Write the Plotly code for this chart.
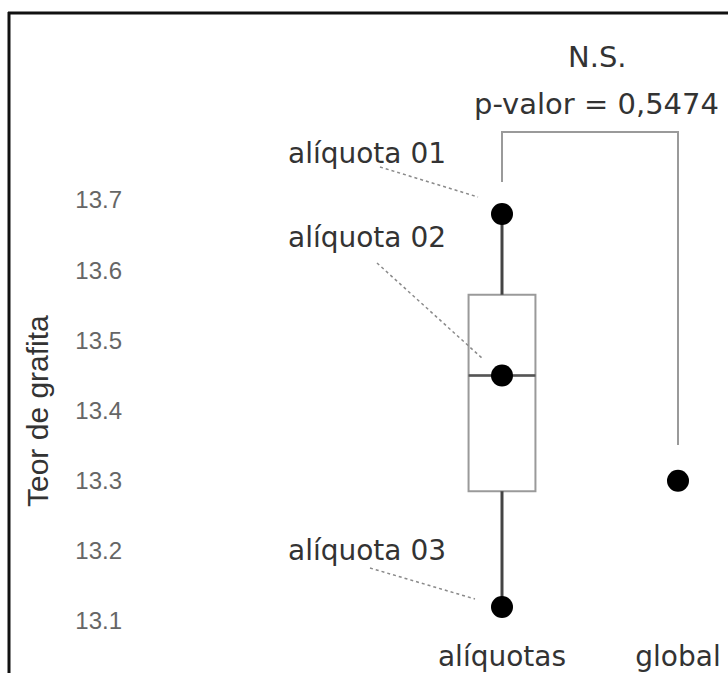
import numpy as np
import plotly.graph_objects as go

# ---- data ----
categories = ["alíquotas", "global"]
aliquot_labels = ["alíquota 01", "alíquota 02", "alíquota 03"]
aliquot_values = [13.68, 13.45, 13.12]
global_value = [13.30]
y_ticks = [13.1, 13.2, 13.3, 13.4, 13.5, 13.6, 13.7]
test_texts = ["N.S.", "p-valor = 0,5474"]
y_title = "Teor de grafita"

# ---- layout geometry ----
W, H = 728, 673
ML, MR, MT, MB = 123, 0, 40, 36
X0_PX, DX_PX = 502, 176
Y_REF_PX, Y_REF_VAL, PX_PER_UNIT = 200, 13.7, 701.7


def px2x(px):
    return (px - X0_PX) / DX_PX


def px2y(py):
    return Y_REF_VAL - (py - Y_REF_PX) / PX_PER_UNIT


def px2paper_x(px):
    return (px - ML) / (W - ML - MR)


def px2paper_y(py):
    return (H - MB - py) / (H - MB - MT)


vals = np.array(aliquot_values)
q1, med, q3 = np.percentile(vals, [25, 50, 75])
vmin, vmax = vals.min(), vals.max()
BOX_W = 0.38

fig = go.Figure()
fig.add_trace(go.Box(
    x=[0], q1=[q1], median=[med], q3=[q3], lowerfence=[vmin], upperfence=[vmax],
    width=BOX_W, line=dict(color="#9a9a9a", width=2),
    fillcolor="rgba(255,255,255,0)", boxpoints=False, whiskerwidth=0,
    hoverinfo="skip"))
# darker whiskers and median
fig.add_trace(go.Scatter(
    x=[0, 0, None, 0, 0], y=[vmin, q1, None, q3, vmax], mode="lines",
    line=dict(color="#444444", width=3), hoverinfo="skip"))
fig.add_trace(go.Scatter(
    x=[-BOX_W / 2, BOX_W / 2], y=[med, med], mode="lines",
    line=dict(color="#555555", width=2.5), hoverinfo="skip"))
# points
fig.add_trace(go.Scatter(
    x=[0] * len(aliquot_values), y=aliquot_values, mode="markers",
    marker=dict(color="black", size=22), text=aliquot_labels))
fig.add_trace(go.Scatter(
    x=[1] * len(global_value), y=global_value, mode="markers",
    marker=dict(color="black", size=22)))

shapes = []
# significance bracket
shapes.append(dict(
    type="path", xref="x", yref="y",
    path=(f"M 0 {px2y(182)} L 0 {px2y(132)} L 1 {px2y(132)} L 1 {px2y(445)}"),
    line=dict(color="#9a9a9a", width=2)))
# dotted leader lines
leaders = [((380, 167), (478, 197)), ((377, 263), (483, 359)), ((370, 568), (475, 599))]
for (a, b) in leaders:
    shapes.append(dict(type="line", xref="x", yref="y",
                       x0=px2x(a[0]), y0=px2y(a[1]), x1=px2x(b[0]), y1=px2y(b[1]),
                       line=dict(color="#8a8a8a", width=1.5, dash="dot")))
# frame
shapes.append(dict(type="line", xref="paper", yref="paper",
                   x0=px2paper_x(8), x1=px2paper_x(W + 5), y0=px2paper_y(13), y1=px2paper_y(13),
                   line=dict(color="#111111", width=3)))
shapes.append(dict(type="line", xref="paper", yref="paper",
                   x0=px2paper_x(9), x1=px2paper_x(9), y0=px2paper_y(12), y1=px2paper_y(H + 5),
                   line=dict(color="#111111", width=3)))

annotations = []
label_pos = [(286, 153), (286, 237), (286, 550)]
for lab, (px, py) in zip(aliquot_labels, label_pos):
    annotations.append(dict(x=px2x(px), y=px2y(py), xref="x", yref="y", text=lab,
                            showarrow=False, xanchor="left", yanchor="middle",
                            font=dict(family="DejaVu Sans", size=28, color="#333333")))
for t, (px, py) in zip(test_texts, [(597, 57), (596, 104)]):
    annotations.append(dict(x=px2x(px), y=px2y(py), xref="x", yref="y", text=t,
                            showarrow=False, xanchor="center", yanchor="middle",
                            font=dict(family="DejaVu Sans", size=29, color="#333333")))
annotations.append(dict(x=px2paper_x(37), y=px2paper_y(411), xref="paper", yref="paper",
                        text=y_title, textangle=-90, showarrow=False,
                        xanchor="center", yanchor="middle",
                        font=dict(family="Liberation Sans", size=30, color="#333333")))

fig.update_layout(
    width=W, height=H, margin=dict(l=ML, r=MR, t=MT, b=MB),
    paper_bgcolor="white", plot_bgcolor="white", showlegend=False,
    shapes=shapes, annotations=annotations,
    xaxis=dict(range=[px2x(ML), px2x(W - MR)], tickvals=[0, 1], ticktext=categories,
               showgrid=False, zeroline=False, showline=False, ticks="",
               tickfont=dict(family="DejaVu Sans", size=28, color="#333333")),
    yaxis=dict(range=[px2y(H - MB), px2y(MT)], tickvals=y_ticks,
               ticktext=[f"{v:.1f}" for v in y_ticks],
               showgrid=False, zeroline=False, showline=False, ticks="",
               tickfont=dict(family="Liberation Sans", size=24, color="#666666")),
)

fig.write_html("out.html")
